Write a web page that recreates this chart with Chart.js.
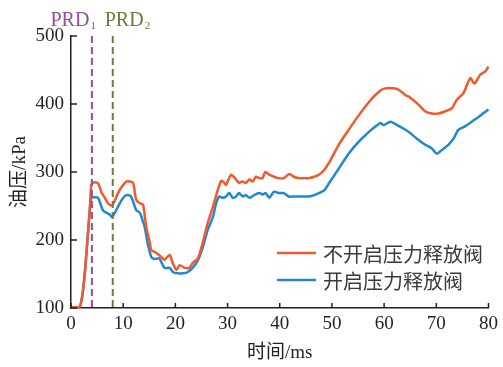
<!DOCTYPE html>
<html><head><meta charset="utf-8">
<script src="https://cdn.jsdelivr.net/npm/chart.js@4/dist/chart.umd.min.js"></script>
<style>html,body{margin:0;padding:0;background:#fff;}</style>
</head><body>
<canvas id="c" width="503" height="367" style="display:block;width:503px;height:367px"></canvas>
<script>
// ---- data ----
const timeNoValve = [0,1,1.7,2.2,2.7,3.3,3.6,3.9,4.5,5.2,5.9,6.5,7.1,7.8,8.4,9,9.8,10.6,11.2,11.9,12.5,13.2,13.8,14.4,15.1,15.4,16.4,17.3,17.9,18.9,19.5,20.2,20.8,21.8,22.7,23.3,24.3,25.2,26.2,27.2,28.1,28.8,29.4,29.7,30.7,31.6,32.2,32.9,33.5,34.2,34.8,35.4,36.1,36.7,37.2,38,38.9,39.8,40.8,41.8,42.7,43.7,44.7,45.6,46.6,47.5,48.5,49.4,51.3,53.2,55.2,57.1,59,60.2,61.8,62.8,64.1,64.7,66.6,67.9,69.1,70.4,71.6,73,73.9,75.2,76.5,77.3,78.4,79.4,80];
const pressureNoValve = [101,101,102,120,156,215,244,281,285,283,269,262,254,251,258,269,279,286,286,284,259,254,252,220,196,185,181,175,171,178,166,156,163,159,159,166,173,195,225,249,273,287,284,281,296,289,284,286,284,289,286,293,291,291,300,296,293,291,291,297,293,291,291,291,293,296,303,313,340,362,384,403,418,423,423,421,413,411,399,389,386,386,389,394,406,416,438,430,443,448,455];
const timeValve = [0,1,1.7,2.2,2.7,3.3,3.6,3.9,4.5,5.2,6.1,6.8,7.5,7.8,8.4,9,9.8,10.6,11.5,12.5,13.2,13.8,14.1,14.7,15.4,16,16.9,17.9,18.9,19.5,20.5,21.5,22.4,23.3,24.3,25.2,26.2,27.2,27.8,28.4,29.1,29.7,30.3,31,31.6,32.2,32.9,33.5,34.2,35.1,36.1,36.7,37.3,38,38.9,39.8,40.8,41.7,42.7,43.7,44.7,45.6,46.6,47.5,48.5,49.4,51.3,53.2,55.2,57.1,58.7,59.3,59.9,61.2,62.5,63.7,64.7,66.6,67.9,69.1,70.1,71,72.3,73.3,74.2,75.5,76.8,78.1,80];
const pressureValve = [101,101,102,120,156,215,244,262,263,262,244,240,237,234,240,249,260,266,264,244,240,227,220,195,175,172,173,159,159,153,151,151,153,159,170,188,215,234,254,264,262,264,269,262,264,269,264,266,262,266,269,267,269,262,271,269,269,264,264,264,264,264,266,269,273,283,305,327,345,359,369,372,369,374,369,364,359,347,340,335,327,332,340,349,362,367,374,381,392];
const seriesLabels = ['不开启压力释放阀', '开启压力释放阀'];
const prdTimes = [4, 8];
const prdNames = ['PRD', 'PRD'];
const prdSubs = ['1', '2'];
const xTicks = [0,10,20,30,40,50,60,70,80];
const yTicks = [100,200,300,400,500];
const xTitle = '时间/ms';
const yTitle = '油压/kPa';

// ---- styles ----
const ORANGE = '#f05a2c', BLUE = '#2188d0', AXIS = '#231f20';
const PRD_COLORS = ['#944c9c', '#6c7b3c'];
const SERIF = '"Liberation Serif", "Noto Sans CJK SC", serif';

const toPts = (xs, ys) => xs.map((x, i) => ({x, y: ys[i]}));

const extras = {
  id: 'extras',
  afterDatasetsDraw(chart) {
    const {ctx, chartArea: a, scales: {x, y}} = chart;
    ctx.save();
    prdTimes.forEach((t, i) => {
      const px = x.getPixelForValue(t);
      ctx.strokeStyle = PRD_COLORS[i];
      ctx.lineWidth = 2;
      ctx.setLineDash([7, 4]);
      ctx.beginPath();
      ctx.moveTo(px, a.top);
      ctx.lineTo(px, a.bottom);
      ctx.stroke();
    });
    ctx.setLineDash([]);
    prdTimes.forEach((t, i) => {
      const px = x.getPixelForValue(t);
      ctx.fillStyle = PRD_COLORS[i];
      ctx.textBaseline = 'alphabetic';
      ctx.font = '20px ' + SERIF;
      const w = ctx.measureText(prdNames[i]).width;
      ctx.font = '11px ' + SERIF;
      const ws = ctx.measureText(prdSubs[i]).width;
      let left = i === 0 ? px + 4 - w - ws - 1 : px - 8;
      ctx.font = '20px ' + SERIF;
      ctx.textAlign = 'left';
      ctx.fillText(prdNames[i], left, 26);
      ctx.font = '11px ' + SERIF;
      ctx.fillText(prdSubs[i], left + w + 1, 29);
    });
    ctx.strokeStyle = AXIS;
    ctx.lineWidth = 1.5;
    xTicks.forEach(v => {
      const px = x.getPixelForValue(v);
      ctx.beginPath(); ctx.moveTo(px, a.bottom); ctx.lineTo(px, a.bottom - 5); ctx.stroke();
    });
    yTicks.forEach(v => {
      const py = y.getPixelForValue(v);
      ctx.beginPath(); ctx.moveTo(a.left, py); ctx.lineTo(a.left + 6, py); ctx.stroke();
    });
    chart.data.datasets.forEach((ds, i) => {
      const ly = 253 + i * 27;
      ctx.strokeStyle = ds.borderColor;
      ctx.lineWidth = 2.5;
      ctx.beginPath(); ctx.moveTo(277, ly); ctx.lineTo(316, ly); ctx.stroke();
      ctx.fillStyle = '#3a3a3a';
      ctx.font = '20px "Noto Sans CJK SC", sans-serif';
      ctx.textAlign = 'left';
      ctx.textBaseline = 'middle';
      ctx.fillText(ds.label, 323, ly + 1);
    });
    ctx.restore();
  }
};

new Chart(document.getElementById('c'), {
  type: 'line',
  data: {
    datasets: [
      {label: seriesLabels[0], data: toPts(timeNoValve, pressureNoValve), borderColor: ORANGE, borderWidth: 2.5, pointRadius: 0, tension: 0.25, fill: false, order: 0, clip: 4},
      {label: seriesLabels[1], data: toPts(timeValve, pressureValve), borderColor: BLUE, borderWidth: 2.5, pointRadius: 0, tension: 0.25, fill: false, order: 1, clip: 4}
    ]
  },
  options: {
    responsive: false,
    animation: false,
    devicePixelRatio: 1,
    layout: {padding: {left: 0, right: 13, top: 36, bottom: 0}},
    plugins: {legend: {display: false}, tooltip: {enabled: false}},
    scales: {
      x: {
        type: 'linear', min: 0, max: 80,
        afterBuildTicks: s => { s.ticks = xTicks.map(v => ({value: v})); },
        afterFit: s => { s.height = 59; },
        grid: {display: false, drawTicks: false},
        border: {display: true, color: AXIS, width: 1.5},
        ticks: {color: AXIS, padding: 5, font: {family: SERIF, size: 19}, maxRotation: 0},
        title: {display: true, text: xTitle, color: AXIS, font: {family: SERIF, size: 19}, padding: {top: 0, bottom: 3}}
      },
      y: {
        type: 'linear', min: 100, max: 500,
        afterBuildTicks: s => { s.ticks = yTicks.map(v => ({value: v})); },
        afterFit: s => { s.width = 71; },
        grid: {display: false, drawTicks: false},
        border: {display: true, color: AXIS, width: 1.5},
        ticks: {color: AXIS, padding: 7, font: {family: SERIF, size: 19}},
        title: {display: true, text: yTitle, color: AXIS, font: {family: SERIF, size: 19}, padding: {top: 9, bottom: 0}}
      }
    }
  },
  plugins: [extras]
});
</script>
</body></html>
